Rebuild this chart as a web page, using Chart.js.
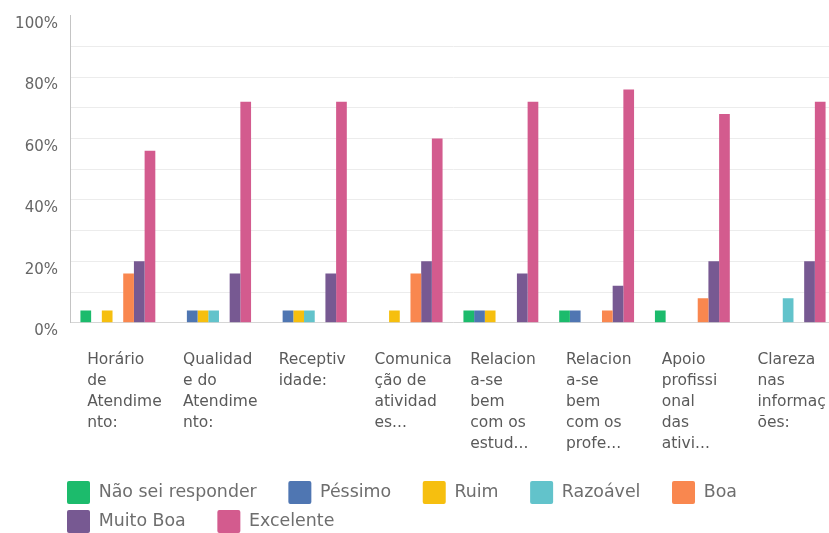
<!DOCTYPE html>
<html>
<head>
<meta charset="utf-8">
<script src="https://cdn.jsdelivr.net/npm/chart.js@4.4.1/dist/chart.umd.min.js"></script>
<style>
  html, body { margin: 0; padding: 0; background: #fff; overflow: hidden; }
  #wrap { width: 838px; height: 543px; position: relative; }
</style>
</head>
<body>
<div id="wrap"><canvas id="chart"></canvas></div>
<script>
// categories, already broken into lines as in the survey export
const categories = [
  ["Horário", "de", "Atendime", "nto:"],
  ["Qualidad", "e do", "Atendime", "nto:"],
  ["Receptiv", "idade:"],
  ["Comunica", "ção de", "atividad", "es..."],
  ["Relacion", "a-se", "bem", "com os", "estud..."],
  ["Relacion", "a-se", "bem", "com os", "profe..."],
  ["Apoio", "profissi", "onal", "das", "ativi..."],
  ["Clareza", "nas", "informaç", "ões:"]
];

const seriesNames = ["Não sei responder", "Péssimo", "Ruim", "Razoável", "Boa", "Muito Boa", "Excelente"];

// percentages per category
const naoSei    = [4, 0, 0, 0, 4, 4, 4, 0];
const pessimo   = [0, 4, 4, 0, 4, 4, 0, 0];
const ruim      = [4, 4, 4, 4, 4, 0, 0, 0];
const razoavel  = [0, 4, 4, 0, 0, 0, 0, 8];
const boa       = [16, 0, 0, 16, 0, 4, 8, 0];
const muitoBoa  = [20, 16, 16, 20, 16, 12, 20, 20];
const excelente = [56, 72, 72, 60, 72, 76, 68, 72];

const yTicks = [0, 20, 40, 60, 80, 100];

const colors = ["#1cbb6c", "#4f76b2", "#f6bf0f", "#62c3cb", "#f9874f", "#775992", "#d35b8e"];
const seriesValues = [naoSei, pessimo, ruim, razoavel, boa, muitoBoa, excelente];

Chart.defaults.font.family = "'DejaVu Sans', sans-serif";
Chart.defaults.color = "#666";

// move the legend to start under the plot like the original
const legendShift = {
  id: "legendShift",
  afterLayout(chart) {
    chart.legend.left = 61;
  }
};

new Chart(document.getElementById("chart"), {
  type: "bar",
  data: {
    labels: categories,
    datasets: seriesNames.map((name, i) => ({
      label: name,
      data: seriesValues[i],
      backgroundColor: colors[i],
      borderWidth: 0,
      categoryPercentage: 0.782,
      barPercentage: 1
    }))
  },
  options: {
    responsive: true,
    maintainAspectRatio: false,
    animation: false,
    devicePixelRatio: 1,
    layout: { padding: { top: 15.7, left: 15, right: 2, bottom: 0 } },
    plugins: {
      tooltip: { enabled: false },
      legend: {
        position: "bottom",
        align: "start",
        labels: {
          boxWidth: 23,
          boxHeight: 23,
          padding: 6,
          useBorderRadius: true,
          borderRadius: 2,
          color: "#6e6e6e",
          font: { size: 17.4 },
          generateLabels(chart) {
            const items = Chart.defaults.plugins.legend.labels.generateLabels(chart);
            return items.map(it => Object.assign(it, { text: it.text + "    \u2009", lineWidth: 0 }));
          }
        }
      }
    },
    scales: {
      x: {
        grid: { display: false },
        border: { display: true, color: "#d6d6d6" },
        ticks: {
          autoSkip: false,
          maxRotation: 0,
          minRotation: 0,
          align: "start",
          labelOffset: -30.7,
          padding: 18.5,
          color: "#5a5a5a",
          font: { size: 15.5, lineHeight: 1.355 }
        },
        afterFit(s) {
          s.height = 152.3;
          s.paddingLeft = 0;
          s.paddingRight = 0;
        }
      },
      y: {
        min: 0,
        max: 100,
        grid: {
          drawTicks: false,
          color: ctx => (ctx.tick && ctx.tick.value === 100 ? "rgba(0,0,0,0)" : "#ececec")
        },
        border: { display: true, color: "#c4c4c4" },
        ticks: {
          stepSize: 10,
          padding: 12,
          labelOffset: 8.5,
          color: "#666",
          font: { size: 15 },
          callback: v => (yTicks.includes(v) ? v + "%" : "")
        },
        afterFit(s) {
          s.width = 55;
          s.paddingTop = 0;
          s.paddingBottom = 0;
        }
      }
    }
  },
  plugins: [legendShift]
});
</script>
</body>
</html>
